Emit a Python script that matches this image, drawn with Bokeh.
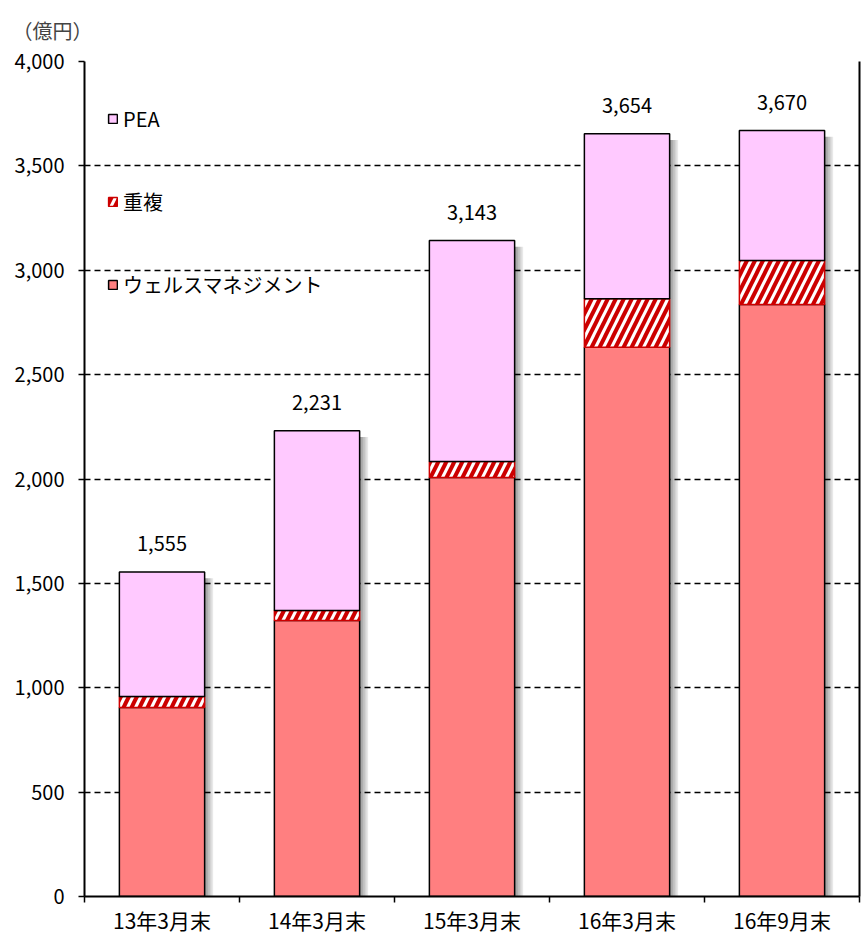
import numpy as np
from bokeh.plotting import figure
from bokeh.models import (ColumnDataSource, FixedTicker, NumeralTickFormatter, Legend,
                          LegendItem, LinearAxis, Range1d, Title)
from bokeh.transform import dodge
from bokeh.core.properties import value
from bokeh.embed import file_html
from bokeh.resources import INLINE

# ---- data ----
categories = ["13年3月末", "14年3月末", "15年3月末", "16年3月末", "16年9月末"]
wealth = [905, 1322, 2007, 2631, 2836]      # ウェルスマネジメント
overlap = [53, 48, 77, 232, 211]            # 重複
pea = [597, 861, 1059, 791, 623]            # PEA
totals = [1555, 2231, 3143, 3654, 3670]
total_labels = ["1,555", "2,231", "3,143", "3,654", "3,670"]
y_ticks = [0, 500, 1000, 1500, 2000, 2500, 3000, 3500, 4000]
unit_label = "（億円）"
series_names = ["PEA", "重複", "ウェルスマネジメント"]

FONT = "Noto Sans CJK JP"

n = len(categories)
xpos = np.arange(n) + 0.5
w = np.array(wealth, dtype=float)
d = np.array(overlap, dtype=float)
pe = np.array(pea, dtype=float)
src = ColumnDataSource(dict(
    x=xpos,
    w_top=w,
    d_bot=w, d_top=w + d,
    p_bot=w + d, p_top=w + d + pe,
    total=np.array(totals, dtype=float),
    label=total_labels,
    zero=np.zeros(n),
))

p = figure(width=862, height=942, output_backend="svg", toolbar_location=None,
           x_range=Range1d(0, n), y_range=Range1d(y_ticks[0], y_ticks[-1]),
           min_border_left=84, min_border_right=3, min_border_top=61, min_border_bottom=46)
p.outline_line_color = None
p.background_fill_color = "white"

BW = 0.55

# shadows
for k in range(1, 6):
    p.vbar(x=dodge("x", k * 0.011, range=p.x_range), width=BW, bottom="zero",
           top=dodge("total", -30, range=p.y_range), source=src,
           fill_color="black", fill_alpha=0.09, line_color=None)

r_w = p.vbar(x="x", width=BW, bottom="zero", top="w_top", source=src,
             fill_color="#FF7F80", line_color="black", line_width=1.5)
r_d = p.vbar(x="x", width=BW, bottom="d_bot", top="d_top", source=src,
             fill_color="white", line_color="#CC0000", line_width=1.5,
             hatch_pattern="/", hatch_color="#CC0000", hatch_scale=16, hatch_weight=4)
r_p = p.vbar(x="x", width=BW, bottom="p_bot", top="p_top", source=src,
             fill_color="#FFC9FF", line_color="black", line_width=1.5)

p.text(x="x", y="total", text="label", source=src, text_align="center",
       text_baseline="middle", y_offset=-28, text_font=value(FONT),
       text_font_size="20px", text_color="black")

# grid
p.xgrid.grid_line_color = None
p.ygrid.ticker = FixedTicker(ticks=y_ticks)
p.ygrid.grid_line_color = "black"
p.ygrid.grid_line_dash = "6 4"
p.ygrid.grid_line_width = 1.5

# y axis
p.yaxis.ticker = FixedTicker(ticks=y_ticks)
p.yaxis.formatter = NumeralTickFormatter(format="0,0")
p.yaxis.axis_line_width = 2
p.yaxis.major_tick_out = 6
p.yaxis.major_tick_in = 0
p.yaxis.major_tick_line_width = 1.5
p.yaxis.minor_tick_line_color = None
p.yaxis.major_label_standoff = 14
p.yaxis.major_label_text_font = FONT
p.yaxis.major_label_text_font_size = "20px"
p.yaxis.major_label_text_color = "black"

# x axis
p.xaxis.ticker = FixedTicker(ticks=list(xpos), minor_ticks=list(range(n + 1)))
p.xaxis.major_label_overrides = {float(x): c for x, c in zip(xpos, categories)}
p.xaxis.axis_line_width = 2
p.xaxis.major_tick_line_color = None
p.xaxis.minor_tick_out = 6
p.xaxis.minor_tick_in = 0
p.xaxis.minor_tick_line_width = 1.5
p.xaxis.major_label_standoff = 2
p.xaxis.major_label_text_font = FONT
p.xaxis.major_label_text_font_size = "21px"
p.xaxis.major_label_text_color = "black"

# right border
rax = LinearAxis(ticker=FixedTicker(ticks=[]), axis_line_width=2,
                 major_tick_line_color=None, minor_tick_line_color=None,
                 major_label_text_font_size="0px")
p.add_layout(rax, "right")

# unit title
t = Title(text=unit_label, align="left", vertical_align="top", text_font=FONT,
          text_font_size="20px", text_font_style="normal", offset=-72, standoff=30)
p.add_layout(t, "above")

legend = Legend(items=[LegendItem(label=series_names[0], renderers=[r_p]),
                       LegendItem(label=series_names[1], renderers=[r_d]),
                       LegendItem(label=series_names[2], renderers=[r_w])],
                location=(23, 597), orientation="vertical",
                glyph_width=11, glyph_height=11, label_height=20, spacing=54,
                label_standoff=5, padding=0, margin=0,
                label_text_font=FONT, label_text_font_size="20px",
                label_text_color="black",
                background_fill_alpha=0, border_line_color=None)
p.add_layout(legend, "center")

open("out.html", "w").write(file_html(p, INLINE))
